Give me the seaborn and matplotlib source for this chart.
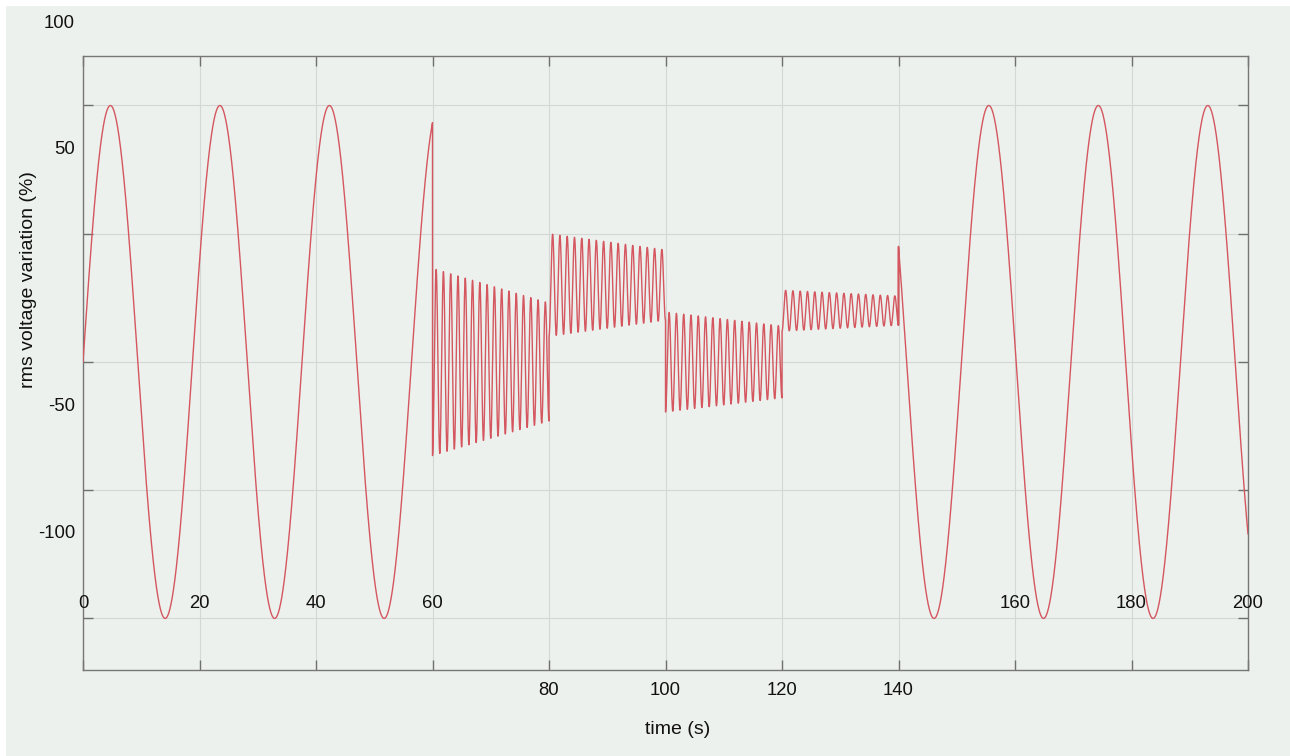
import numpy as np
import pandas as pd
import matplotlib
matplotlib.use("Agg")
import matplotlib.pyplot as plt
from matplotlib.patches import Rectangle
import seaborn as sns

# ---------------- data ----------------
# full-swing sine sections: start, end, phase reference time, amplitude, period (s)
sine_start = [0, 140]
sine_end = [60, 200]
sine_t0 = [0.0, 132.0]
sine_amp = [100.0, 100.0]
sine_period = [18.8, 18.8]

# fast oscillation sections (60-140 s): centre, amplitude at start and at end
osc_start = [60, 80, 100, 120]
osc_end = [80, 100, 120, 140]
osc_center = [0.0, 30.0, 0.0, 20.0]
osc_amp_start = [36.5, 20.0, 19.5, 8.0]
osc_amp_end = [23.0, 13.7, 14.0, 5.7]
osc_period = [1.25, 1.25, 1.25, 1.25]

x_grid = [0, 20, 40, 60, 80, 100, 120, 140, 160, 180, 200]
y_grid = [-100, -50, 0, 50, 100]
x_labels_upper = ["0", "20", "40", "60", "160", "180", "200"]
x_labels_lower = ["80", "100", "120", "140"]
y_labels = ["100", "50", "-50", "-100"]

# ---------------- build the trace ----------------
parts = []
for s, e, t0, a, p in zip(sine_start, sine_end, sine_t0, sine_amp, sine_period):
    t = np.linspace(s, e, int((e - s) * 100) + 1)
    parts.append(pd.DataFrame({"t": t, "v": a * np.sin(2 * np.pi * (t - t0) / p)}))
for s, e, c, a0, a1, p in zip(osc_start, osc_end, osc_center, osc_amp_start, osc_amp_end, osc_period):
    t = np.linspace(s, e, int((e - s) * 100) + 1)
    amp = a0 + (a1 - a0) * (t - s) / (e - s)
    parts.append(pd.DataFrame({"t": t, "v": c - amp * np.cos(2 * np.pi * (t - s) / p)}))
df = pd.concat(parts).sort_values("t", kind="mergesort").reset_index(drop=True)

# ---------------- styling ----------------
bg = "#edf1ee"
sns.set_theme(style="white")
plt.rcParams["font.family"] = ["Liberation Sans", "DejaVu Sans"]

W, H = 1290, 756
fig = plt.figure(figsize=(W / 100, H / 100), dpi=100, facecolor="white")
fig.patches.append(Rectangle((6 / W, 0), 1, 1 - 6 / H, transform=fig.transFigure,
                             facecolor=bg, edgecolor="none", zorder=-10))

L, R, T, B = 83, 1248, 56, 670
ax = fig.add_axes([L / W, 1 - B / H, (R - L) / W, (B - T) / H])
ax.set_facecolor(bg)

sns.lineplot(data=df, x="t", y="v", ax=ax, color="#d4565f", linewidth=1.0,
             estimator=None, sort=False, zorder=3)

ax.set_xlim(0, 200)
ax.set_ylim(-120.1, 119.3)
ax.set_xticks(x_grid)
ax.set_yticks(y_grid)
ax.grid(True, color="#d3d7d5", linewidth=0.8, zorder=0)
ax.tick_params(axis="both", which="both", direction="in", length=7, width=1,
               color="#707070", top=True, right=True, bottom=True, left=True,
               labelbottom=False, labelleft=False)
for sp in ax.spines.values():
    sp.set_color("#777777")
    sp.set_linewidth(1.0)
ax.set_xlabel("")
ax.set_ylabel("")

fs = 13.3
fs_lab = 14
# x tick labels (placed like the reference)
tr_x = ax.get_xaxis_transform()
for lab in x_labels_upper:
    ax.text(float(lab), 0.109, lab, transform=tr_x, ha="center", va="center",
            fontsize=fs, color="#111111", zorder=5)
for lab in x_labels_lower:
    ax.text(float(lab), -0.0326, lab, transform=tr_x, ha="center", va="center",
            fontsize=fs, color="#111111", clip_on=False)

# y tick labels (placed like the reference)
y_label_pos = [1.053, 0.8485, 0.4292, 0.2215]
for lab, yp in zip(y_labels, y_label_pos):
    ax.text(-0.0069, yp, lab, transform=ax.transAxes, ha="right", va="center",
            fontsize=fs, color="#111111", clip_on=False)

fig.text(29 / W, 1 - 280 / H, "rms voltage variation (%)", rotation=90,
         ha="center", va="center", fontsize=fs_lab, color="#111111")
fig.text(678 / W, 1 - 729 / H, "time (s)", ha="center", va="center",
         fontsize=fs_lab, color="#111111")

fig.savefig("out.png", dpi=100, facecolor=fig.get_facecolor())
